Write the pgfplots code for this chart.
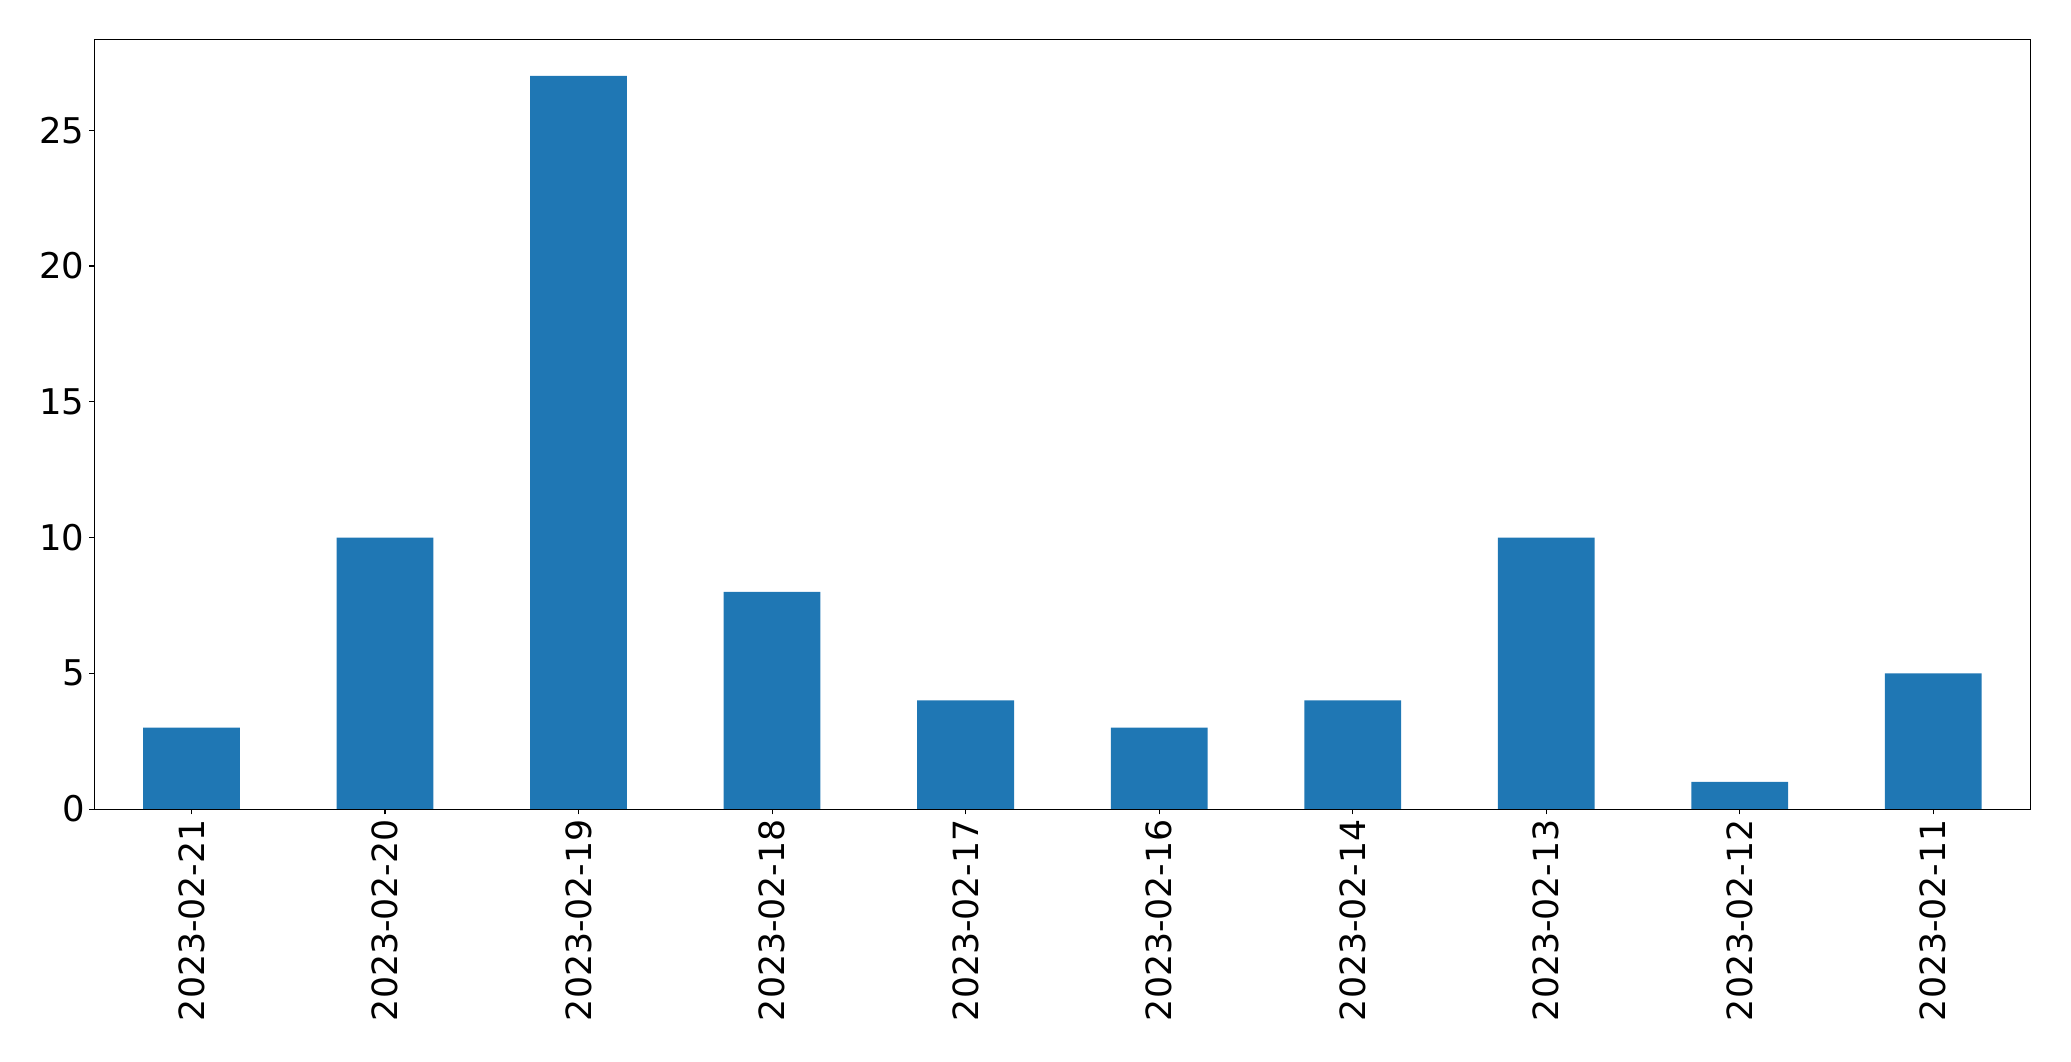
\documentclass[border=0pt]{standalone}
\usepackage{pgfplots}
\pgfplotsset{compat=1.18}
\usepackage{fontspec}
\setmainfont{DejaVu Sans}
\definecolor{mplblue}{HTML}{1F77B4}
\begin{document}
\begin{tikzpicture}
\useasboundingbox (0,0) rectangle (1491.12pt,763.92pt);
\begin{axis}[
  at={(68.2pt,181.4pt)}, anchor=south west,
  width=1393.5pt, height=554.2pt, scale only axis,
  xmin=-0.5, xmax=9.5, ymin=0, ymax=28.35,
  xtick={0,...,9},
  xticklabels={2023-02-21,2023-02-20,2023-02-19,2023-02-18,2023-02-17,2023-02-16,2023-02-14,2023-02-13,2023-02-12,2023-02-11},
  xticklabel style={rotate=90, anchor=east, font=\fontsize{25}{30}\selectfont},
  yticklabel style={font=\fontsize{25.5}{30}\selectfont},
  ytick={0,5,10,15,20,25},
  /pgf/number format/assume math mode=true,
  tick align=outside, tickwidth=3.8pt,
  xtick pos=bottom, ytick pos=left,
  axis line style={line width=0.8pt},
  major tick style={line width=0.8pt, black},
  axis on top,
]
\addplot[ybar, bar width=0.5, fill=mplblue, draw=none, bar shift=0] coordinates {
(0,3) (1,10) (2,27) (3,8) (4,4) (5,3) (6,4) (7,10) (8,1) (9,5)
};
\end{axis}
\end{tikzpicture}
\end{document}
